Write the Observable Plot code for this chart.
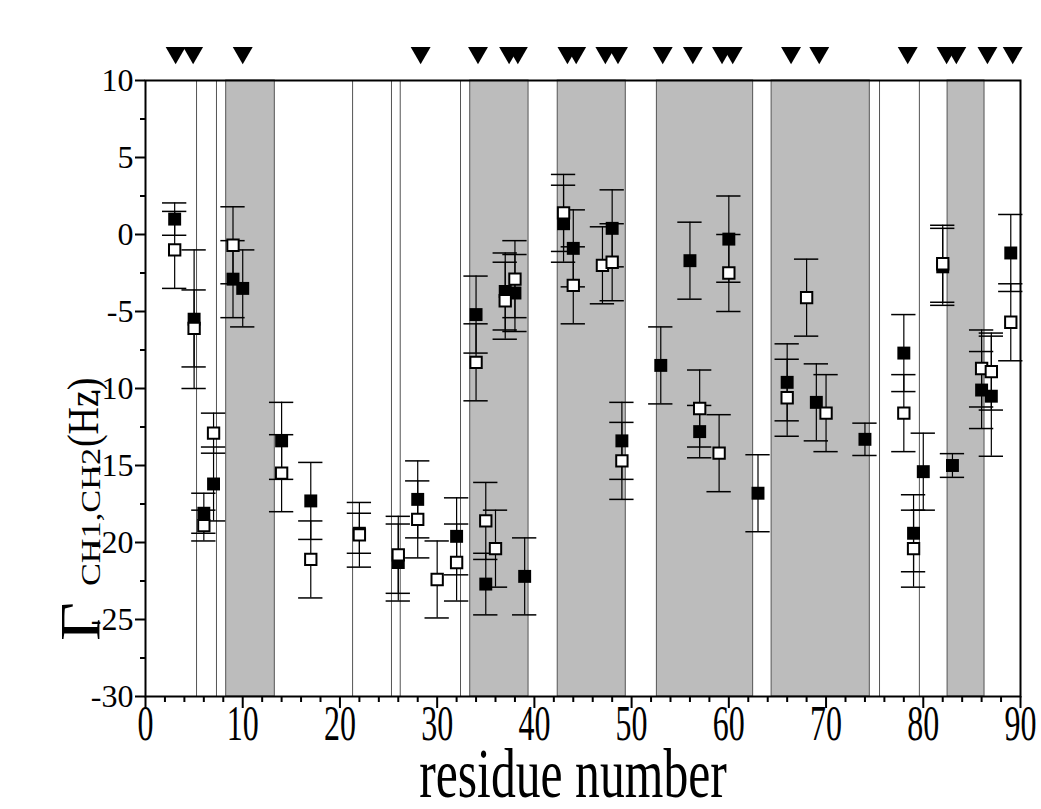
<!DOCTYPE html>
<html><head><meta charset="utf-8">
<script src="https://cdn.jsdelivr.net/npm/d3@7"></script>
<script src="https://cdn.jsdelivr.net/npm/@observablehq/plot@0.6"></script>
<style>
body{margin:0;background:#fff}
</style>
</head><body><div id="chart"></div>
<script>
// filled squares
const filledResidue = [3,5,6,7,9,10,14,17,22,26,28,32,34,35,37,38,39,43,44,48,49,53,56,57,60,63,66,69,74,78,79,80,82,83,86,87,89];
const filledValue   = [1.0,-5.5,-18.1,-16.2,-2.9,-3.5,-13.4,-17.3,-19.4,-21.3,-17.2,-19.6,-5.2,-22.7,-3.7,-3.8,-22.2,0.7,-0.9,0.4,-13.4,-8.5,-1.7,-12.8,-0.3,-16.8,-9.6,-10.9,-13.3,-7.7,-19.4,-15.4,-2.1,-15.0,-10.1,-10.5,-1.2];
const filledError   = [1.05,4.5,1.3,2.4,2.5,2.5,2.5,2.5,1.3,2.5,2.5,2.5,2.5,2.0,2.5,2.5,2.5,2.5,2.5,2.5,2.5,2.5,2.5,1.7,2.8,2.5,2.5,2.5,1.05,2.5,2.5,2.5,2.5,0.77,2.5,3.9,2.5];
// open squares
const openResidue = [3,5,6,7,9,14,17,22,26,28,30,32,34,35,36,37,38,43,44,47,48,49,57,59,60,66,68,70,78,79,82,86,87,89];
const openValue   = [-1.0,-6.1,-18.9,-12.9,-0.7,-15.5,-21.1,-19.5,-20.8,-18.5,-22.4,-21.3,-8.3,-18.6,-20.4,-4.3,-2.9,1.4,-3.3,-2.0,-1.8,-14.7,-11.3,-14.2,-2.5,-10.6,-4.1,-11.6,-11.6,-20.4,-1.9,-8.7,-8.9,-5.7];
const openError   = [2.5,2.5,1.0,1.3,2.5,2.5,2.5,2.1,2.5,2.5,2.5,2.5,2.5,2.5,2.5,2.5,2.5,2.5,2.5,2.5,2.5,2.5,2.5,2.5,2.5,2.5,2.5,2.5,2.5,2.5,2.5,2.5,2.5,2.5];
// shaded regions (residue ranges)
const bandStart = [8.3,33.4,42.4,52.6,64.4,82.5];
const bandEnd   = [13.3,39.4,49.4,62.5,74.5,86.3];
// thin vertical lines
const lineResidue = [5.25,7.3,21.3,25.3,26.2,32.4,75.5,79.6];
// triangle markers above the plot
const triangleResidue = [3.1,4.9,10.0,28.3,34.2,37.4,38.3,43.4,44.3,47.3,48.6,53.2,56.3,59.3,60.4,66.4,69.3,78.4,82.4,83.4,86.6,89.2];
// axes
const xTicks = [0,10,20,30,40,50,60,70,80,90];
const yTicks = [-30,-25,-20,-15,-10,-5,0,5,10];
const xMinorTicks = d3.range(0, 91, 2).filter(d => d % 10 !== 0);
const yMinorTicks = d3.range(-30, 10.1, 2.5).filter(d => d % 5 !== 0);
const xTitle = "residue number";
const yTitleSymbol = "Γ", yTitleSub = "CH1,CH2", yTitleUnit = "(Hz)";

const filled = filledResidue.map((r,i) => ({r, v: filledValue[i], e: filledError[i]}));
const open = openResidue.map((r,i) => ({r, v: openValue[i], e: openError[i]}));
const bands = bandStart.map((s,i) => ({s, e: bandEnd[i]}));

const serif = "'Liberation Serif','Times New Roman',serif";
const capW = 1.25;

function errMarks(data) {
  return [
    Plot.ruleX(data, {x: "r", y1: d => d.v - d.e, y2: d => d.v + d.e, stroke: "black", strokeWidth: 1.2}),
    Plot.ruleY(data, {y: d => d.v + d.e, x1: d => d.r - capW, x2: d => d.r + capW, stroke: "black", strokeWidth: 1.5}),
    Plot.ruleY(data, {y: d => d.v - d.e, x1: d => d.r - capW, x2: d => d.r + capW, stroke: "black", strokeWidth: 1.5})
  ];
}

const chart = Plot.plot({
  width: 1041, height: 809,
  marginLeft: 145, marginRight: 21, marginTop: 80, marginBottom: 113,
  style: {fontFamily: serif, background: "white", overflow: "visible", color: "black"},
  x: {domain: [0, 90]},
  y: {domain: [-30, 10]},
  marks: [
    Plot.rect(bands, {x1: "s", x2: "e", fill: "#bcbcbc", stroke: "#555", strokeWidth: 1}),
    Plot.ruleX(lineResidue, {stroke: "#555", strokeWidth: 1}),
    ...errMarks(filled),
    ...errMarks(open),
    Plot.dot(filled, {x: "r", y: "v", symbol: "square", r: 7.3, fill: "black", stroke: "none"}),
    Plot.dot(open, {x: "r", y: "v", symbol: "square", r: 6.4, fill: "white", stroke: "black", strokeWidth: 2}),
    Plot.dot(triangleResidue, {x: d => d, y: () => 11.8, symbol: "triangle", rotate: 180, r: 7.4, fill: "black", stroke: "none", clip: false}),
    Plot.frame({stroke: "black", strokeWidth: 2}),
    Plot.axisX({ticks: xTicks, tickSize: 12, tickFormat: () => "", strokeWidth: 2, label: null}),
    Plot.axisX({ticks: xMinorTicks, tickSize: 6, tickFormat: () => "", strokeWidth: 2, label: null}),
    Plot.text(xTicks, {x: d => d, y: () => -30, text: d => String(d), dy: 27, fontSize: 50, lineAnchor: "middle", className: "xlab"}),
    Plot.text([xTitle], {frameAnchor: "bottom", dx: -10, dy: 78, fontSize: 70, lineAnchor: "middle", className: "xtitle"}),
    Plot.axisY({ticks: yTicks, tickSize: 10, tickFormat: d => String(d), fontSize: 32, tickPadding: 2, strokeWidth: 2, label: null}),
    Plot.axisY({ticks: yMinorTicks, tickSize: 5, tickFormat: () => "", strokeWidth: 2, label: null})
  ]
});

const svg = d3.select(chart);
function squeeze(sel, sx) {
  svg.selectAll(sel).each(function() {
    const t = this.getAttribute("transform") || "";
    this.setAttribute("transform", `${t} scale(${sx},1)`);
  });
}
squeeze(".xlab text", 0.64);
squeeze(".xtitle text", 0.71);

function ylab(txt, x, y, size, sx) {
  svg.append("text")
    .attr("transform", `translate(${x},${y}) rotate(-90) scale(${sx},1)`)
    .attr("font-family", serif)
    .attr("font-size", size)
    .attr("text-anchor", "start")
    .attr("fill", "black")
    .text(txt);
}
ylab(yTitleSymbol, 100, 641, 56, 1.2);
ylab(yTitleSub, 100, 586, 27, 1.27);
ylab(yTitleUnit, 98, 447, 44, 0.86);

document.getElementById("chart").appendChild(chart);
</script>
</body></html>
